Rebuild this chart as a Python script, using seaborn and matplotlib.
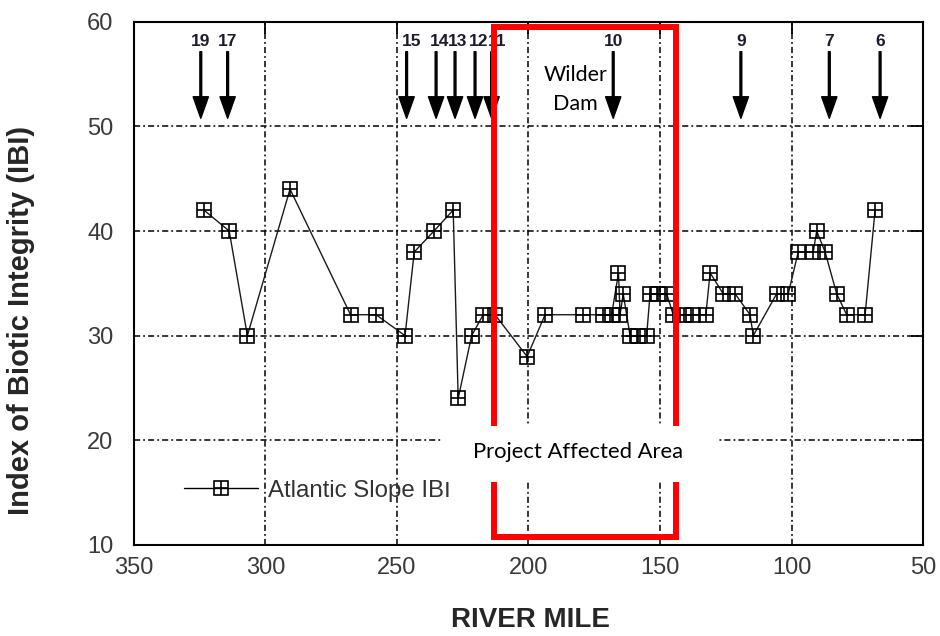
import matplotlib
matplotlib.use("Agg")
import matplotlib.pyplot as plt
from matplotlib.patches import Rectangle
from matplotlib.lines import Line2D
from matplotlib.legend_handler import HandlerTuple
import seaborn as sns
import pandas as pd

# ---- data ----
river_mile = [323.3, 313.7, 306.8, 290.6, 267.6, 257.9, 246.9, 243.4, 235.9, 228.6,
              226.7, 221.6, 217.2, 212.7, 200.5, 193.7, 179.2, 171.6, 168.4, 165.8,
              165.2, 164.0, 161.4, 158.3, 155.1, 153.8, 150.7, 147.5, 145.0, 140.9,
              137.4, 132.6, 131.0, 126.0, 121.5, 115.8, 114.6, 105.7, 101.3, 97.5,
              91.8, 90.5, 87.3, 82.9, 79.1, 72.1, 68.3]
ibi = [42, 40, 30, 44, 32, 32, 30, 38, 40, 42,
       24, 30, 32, 32, 28, 32, 32, 32, 32, 36,
       32, 34, 30, 30, 30, 34, 34, 34, 32, 32,
       32, 32, 36, 34, 34, 32, 30, 34, 34, 38,
       38, 40, 38, 34, 32, 32, 42]

site_labels = ["19", "17", "15", "14", "13", "12", "11", "10", "9", "7", "6"]
site_miles = [324.5, 314.3, 246.3, 235.1, 227.9, 220.3, 214.0, 167.8, 119.3, 85.7, 66.4]

x_ticks = [350, 300, 250, 200, 150, 100, 50]
y_ticks = [10, 20, 30, 40, 50, 60]

series_name = "Atlantic Slope IBI"
x_label = "RIVER MILE"
y_label = "Index of Biotic Integrity (IBI)"
dam_text = ["Wilder", "Dam"]
area_text = "Project Affected Area"
area_miles = (213.1, 144.0)

df = pd.DataFrame({"mile": river_mile, "ibi": ibi})

# ---- style ----
sns.set_style("white")
plt.rcParams["font.family"] = ["Liberation Sans", "DejaVu Sans"]

fig = plt.figure(figsize=(9.4, 6.36), dpi=100)
ax = fig.add_axes([0.1422, 0.1431, 0.8400, 0.8228])

grid_ls = (0, (4.0, 2.0, 1.2, 2.0))
ax.set_axisbelow(True)
ax.grid(True, color="black", linestyle=grid_ls, linewidth=1.1)

MS = 9.5
sns.lineplot(data=df, x="mile", y="ibi", sort=False, estimator=None, ax=ax,
             color="#1a1a1a", linewidth=1.0, marker="s", markersize=MS,
             markerfacecolor="none", markeredgecolor="black", markeredgewidth=1.2,
             zorder=3)
sns.lineplot(data=df, x="mile", y="ibi", sort=False, estimator=None, ax=ax,
             color="black", linestyle="none", marker="+", markersize=MS,
             markeredgecolor="black", markeredgewidth=1.2, zorder=3)

ax.set_xlim(350, 50)
ax.set_ylim(10, 60)
ax.set_xticks(x_ticks)
ax.set_yticks(y_ticks)
ax.tick_params(direction="in", length=8.5, width=1.3, top=True, right=True,
               labelsize=17, labelcolor="#3a3a3a", color="black")
ax.tick_params(axis="y", pad=14.5)
ax.tick_params(axis="x", pad=8.5)
for s in ax.spines.values():
    s.set_linewidth(1.5)
    s.set_color("black")

ax.set_xlabel(x_label, fontsize=20, fontweight="bold", color="#262626")
ax.xaxis.set_label_coords(0.502, -0.118)
ax.set_ylabel(y_label, fontsize=21, fontweight="bold", color="#262626")
ax.yaxis.set_label_coords(-0.125, 0.43)

# ---- site arrows ----
label_shift_px = {"15": 5, "14": 3, "13": 3, "12": 4, "11": 6}
for lab, m in zip(site_labels, site_miles):
    ax.annotate("", xy=(m, 50.77), xytext=(m, 57.13),
                arrowprops=dict(facecolor="black", edgecolor="black", width=1.3,
                                headwidth=11, headlength=15.5, shrink=0),
                zorder=4)
    ax.annotate(lab, xy=(m, 58.09), xytext=(label_shift_px.get(lab, 0) * 0.72, 0),
                textcoords="offset points", ha="center", va="center",
                fontsize=12.5, fontweight="bold", color="#1c1c2c", zorder=4)

# ---- project affected area ----
ax.add_patch(Rectangle((area_miles[0], 10.8), area_miles[1] - area_miles[0], 59.54 - 10.8,
                       fill=False, edgecolor="#ff0000", linewidth=4.3, zorder=5))
ax.add_patch(Rectangle((232.5, 16.0), 128.4 - 232.5, 21.4 - 16.0,
                       facecolor="white", edgecolor="none", zorder=6))
ax.text(181.1, 18.9, area_text, ha="center", va="center", fontsize=15.8,
        family=["Lato", "DejaVu Sans"], color="black", zorder=7)
ax.text(182.1, 54.9, dam_text[0], ha="center", va="center", fontsize=15.5,
        family=["Lato", "DejaVu Sans"], color="black", zorder=7)
ax.text(182.1, 52.1, dam_text[1], ha="center", va="center", fontsize=15.5,
        family=["Lato", "DejaVu Sans"], color="black", zorder=7)

# ---- legend ----
h_sq = Line2D([], [], color="black", linewidth=1.0, marker="s", markersize=MS,
              markerfacecolor="none", markeredgecolor="black", markeredgewidth=1.2)
h_pl = Line2D([], [], color="black", linestyle="none", marker="+", markersize=MS,
              markeredgecolor="black", markeredgewidth=1.2)
leg = ax.legend(handles=[(h_sq, h_pl)], labels=[series_name],
                handler_map={tuple: HandlerTuple(ndivide=1, pad=0)},
                loc="center left", bbox_to_anchor=(0.0637, 0.1038),
                frameon=False, fontsize=17.3, handlelength=3.1, handletextpad=0.4,
                borderpad=0, borderaxespad=0)
for t in leg.get_texts():
    t.set_color("#333333")

fig.savefig("out.png", dpi=100)
